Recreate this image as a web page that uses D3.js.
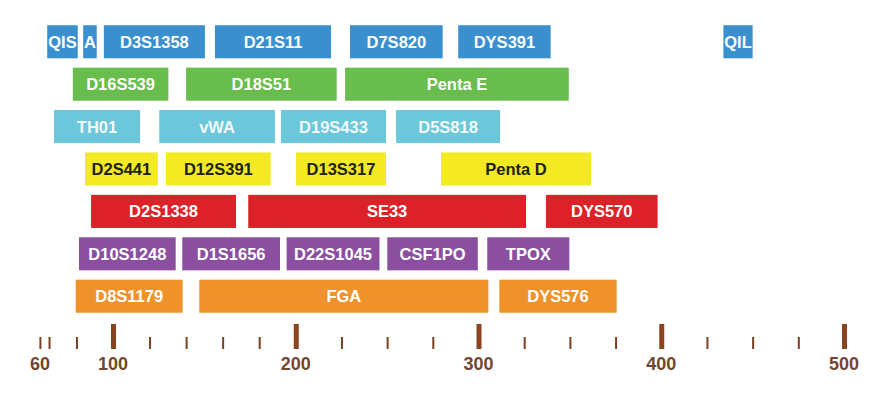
<!DOCTYPE html>
<html>
<head>
<meta charset="utf-8">
<script src="https://cdn.jsdelivr.net/npm/d3@7"></script>
<style>
  body { margin: 0; background: #fff; }
</style>
</head>
<body>
<div id="chart"></div>
<script>
// marker rows, top to bottom (dye channels)
var rows = ["blue", "green", "cyan", "yellow", "red", "purple", "orange"];
var rowColors = ["#3a8fcf", "#69bd4c", "#6cc7da", "#f3ea24", "#dc2128", "#8a4f9f", "#f0922b"];
var rowText = ["#ffffff", "#ffffff", "#f2fafc", "#222211", "#ffffff", "#ffffff", "#ffffff"];

// marker name, row, size range (bp)
var markerNames = ["QIS", "A", "D3S1358", "D21S11", "D7S820", "DYS391", "QIL",
  "D16S539", "D18S51", "Penta E",
  "TH01", "vWA", "D19S433", "D5S818",
  "D2S441", "D12S391", "D13S317", "Penta D",
  "D2S1338", "SE33", "DYS570",
  "D10S1248", "D1S1656", "D22S1045", "CSF1PO", "TPOX",
  "D8S1179", "FGA", "DYS576"];
var markerRow = ["blue", "blue", "blue", "blue", "blue", "blue", "blue",
  "green", "green", "green",
  "cyan", "cyan", "cyan", "cyan",
  "yellow", "yellow", "yellow", "yellow",
  "red", "red", "red",
  "purple", "purple", "purple", "purple", "purple",
  "orange", "orange", "orange"];
var markerStart = [64, 83.7, 95, 155.8, 229.7, 288.9, 434,
  78, 140, 227,
  67.7, 125.3, 191.9, 254.9,
  84.7, 129, 200.1, 279.5,
  88, 174, 336.9,
  81.4, 137.9, 195, 250.1, 304.8,
  79.6, 147.2, 311.4];
var markerEnd = [80.7, 91.1, 150.3, 219.3, 280.4, 339.5, 450,
  130.3, 222.4, 349.4,
  114.8, 188.6, 249.4, 311.8,
  124.5, 186.3, 249.4, 361.6,
  167.3, 326, 398,
  134.3, 191.4, 245.8, 299.6, 349.7,
  138.1, 305.4, 375.6];

var majorTicks = [100, 200, 300, 400, 500];
var minorTicks = [60, 65, 80, 120, 140, 160, 180, 225, 250, 275, 325, 350, 375, 425, 450, 475];
var tickLabels = [60, 100, 200, 300, 400, 500];

var width = 890, height = 396;

var svg = d3.select("#chart")
  .append("svg")
    .attr("width", width)
    .attr("height", height);

var x = d3.scaleLinear()
  .domain([100, 500])
  .range([113, 844]);

var y = d3.scaleBand()
  .domain(rows)
  .range([21, 317])
  .paddingInner(0.22)
  .paddingOuter(0.1);

var markers = markerNames.map(function(n, i) {
  return { name: n, row: markerRow[i], start: markerStart[i], end: markerEnd[i] };
});

var g = svg.selectAll(".marker")
  .data(markers)
  .enter()
  .append("g")
    .attr("class", "marker");

g.append("rect")
  .attr("x", d => x(d.start))
  .attr("y", d => y(d.row))
  .attr("width", d => x(d.end) - x(d.start))
  .attr("height", y.bandwidth())
  .style("fill", d => rowColors[rows.indexOf(d.row)]);

g.append("text")
  .attr("x", d => (x(d.start) + x(d.end)) / 2)
  .attr("y", d => y(d.row) + y.bandwidth() / 2)
  .attr("dy", "0.36em")
  .attr("text-anchor", "middle")
  .style("font-family", "Liberation Sans, Arial, sans-serif")
  .style("font-weight", "bold")
  .style("font-size", "16.5px")
  .style("fill", d => rowText[rows.indexOf(d.row)])
  .text(d => d.name);

// axis ticks
var axisY = 349;
var minorAxis = svg.append("g")
  .attr("transform", "translate(0," + axisY + ")")
  .call(d3.axisTop(x).tickValues(minorTicks).tickSize(12).tickFormat(""));
minorAxis.select(".domain").remove();
minorAxis.selectAll("line").style("stroke", "#7a4024").style("stroke-width", 2);

var majorAxis = svg.append("g")
  .attr("transform", "translate(0," + axisY + ")")
  .call(d3.axisTop(x).tickValues(majorTicks).tickSize(25).tickFormat(""));
majorAxis.select(".domain").remove();
majorAxis.selectAll("line").style("stroke", "#8a4420").style("stroke-width", 5);

svg.append("g")
  .selectAll("text")
  .data(tickLabels)
  .enter()
  .append("text")
    .attr("x", d => x(d))
    .attr("y", 370)
    .attr("text-anchor", "middle")
    .style("font-family", "Liberation Sans, Arial, sans-serif")
    .style("font-weight", "bold")
    .style("font-size", "18px")
    .style("fill", "#734631")
    .text(d => d);
</script>
</body>
</html>
